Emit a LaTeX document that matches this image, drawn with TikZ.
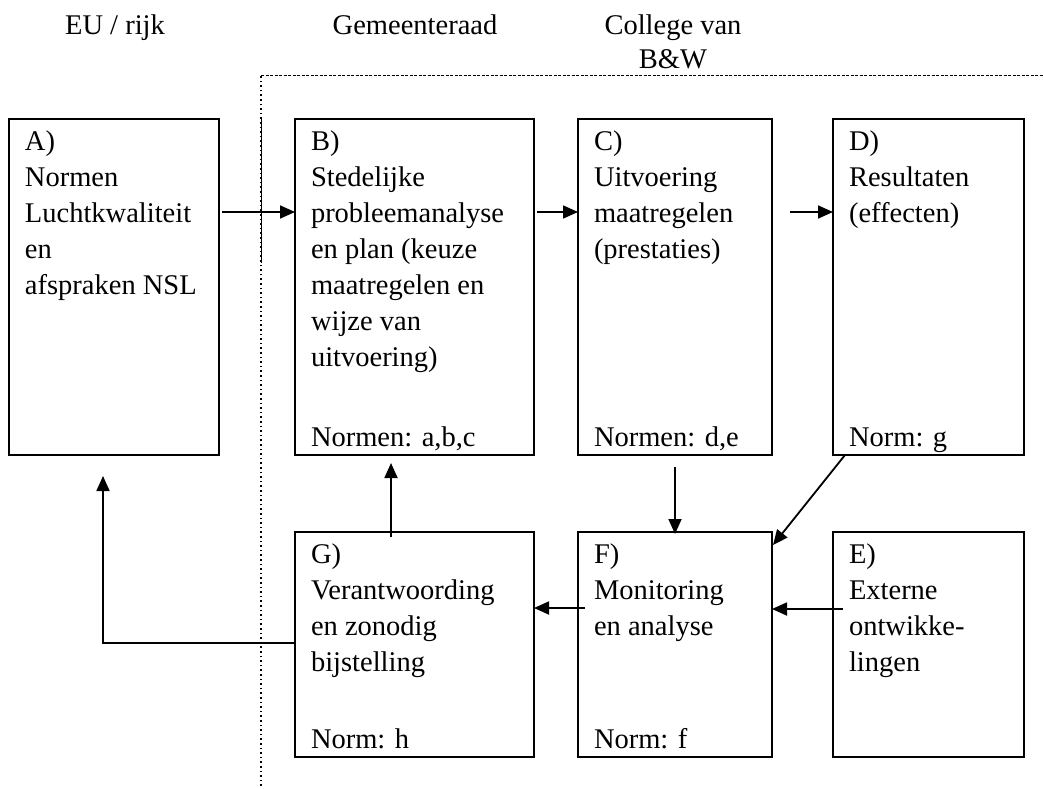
\documentclass[tikz,border=0pt]{standalone}
\usepackage{fontspec}
\setmainfont{Liberation Serif}
\usetikzlibrary{arrows.meta,calc}
\newcommand\bxt[4]{\parbox[c][#2][s]{#1}{\fontsize{28.5}{36}\selectfont\raggedright\leftskip=16pt\parskip=0pt\hyphenpenalty=10000
\rule{0pt}{31pt}#3\par\vfill\rule[-9pt]{0pt}{9pt}#4\par\kern0pt}}
\tikzset{
  frame/.style={draw, line width=2.6pt, inner sep=0pt, outer sep=0pt, anchor=north west},
  thinframe/.style={frame, line width=1.2pt},
  conn/.style={line width=1.8pt, -{Triangle[length=15pt,width=13pt]}},
  head/.style={font=\fontsize{28.5}{34}\selectfont, anchor=base, inner sep=0pt},
  dotline/.style={line width=2pt, dash pattern=on 1.6pt off 3pt},
  dashline/.style={line width=1pt, dash pattern=on 3pt off 1.5pt},
}
\begin{document}
\begin{tikzpicture}[x=1pt,y=-1pt]
\useasboundingbox (0,0) rectangle (1044,789);
% headers
\node[head] (hEU) at (115,35) {EU / rijk};
\node[head] (hGR) at (415,35) {Gemeenteraad};
\node[head] (hBW1) at (673,35) {College van};
\node[head] (hBW2) at (673,69) {B\&W};
% region lines
\coordinate (dtop) at (261,76);
\coordinate (dbot) at (261,789);
\coordinate (dright) at (1044,76);
\draw[dotline] (dtop) -- (dbot);
\draw[dashline] (dtop) -- (dright);
\draw[line width=0.8pt] (261,119) -- (261,263);
% boxes
\node[frame] (A) at (9,119) {\bxt{210pt}{336pt}{A)\\Normen\\Luchtkwaliteit\\en\\afspraken NSL}{}};
\node[frame] (B) at (295,119) {\bxt{239pt}{336pt}{B)\\Stedelijke\\probleemanalyse\\en plan (keuze\\maatregelen en\\wijze van\\uitvoering)}{Normen: a,b,c}};
\node[frame] (C) at (578,119) {\bxt{194pt}{336pt}{C)\\Uitvoering\\maatregelen\\(prestaties)}{Normen: d,e}};
\node[frame] (D) at (833,119) {\bxt{191pt}{336pt}{D)\\Resultaten\\(effecten)}{Norm: g}};
\node[frame] (G) at (295,532) {\bxt{239pt}{225pt}{G)\\Verantwoording\\en zonodig\\bijstelling}{Norm: h}};
\node[thinframe] (F) at (578,532) {\bxt{194pt}{225pt}{F)\\Monitoring\\en analyse}{Norm: f}};
\node[frame] (E) at (833,532) {\bxt{191pt}{225pt}{E)\\Externe\\ontwikke-\\lingen}{}};
% connectors
\draw[conn] ($(A.north east)+(3,93)$) -- ($(B.north west)+(0,93)$);
\draw[conn] ($(B.north east)+(3,93)$) -- ($(C.north west)+(0,93)$);
\draw[conn] ($(C.north east)+(18,93)$) -- ($(D.north west)+(0,93)$);
\draw[conn] ($(C.south)+(0,12)$) -- ($(F.north)+(0,2)$);
\draw[conn] ($(D.south west)+(12,0)$) -- ($(F.north east)+(1,13)$);
\draw[conn] ($(E.north west)+(10,77)$) -- ($(F.north east)+(0,77)$);
\draw[conn] ($(F.north west)+(7,76)$) -- ($(G.north east)+(0,76)$);
\draw[conn] ($(G.north west)+(96,5)$) -- ($(B.south west)+(96,8)$);
\draw[conn] ($(G.north west)+(0,111)$) -| ($(A.south west)+(94,21)$);
\end{tikzpicture}
\end{document}
